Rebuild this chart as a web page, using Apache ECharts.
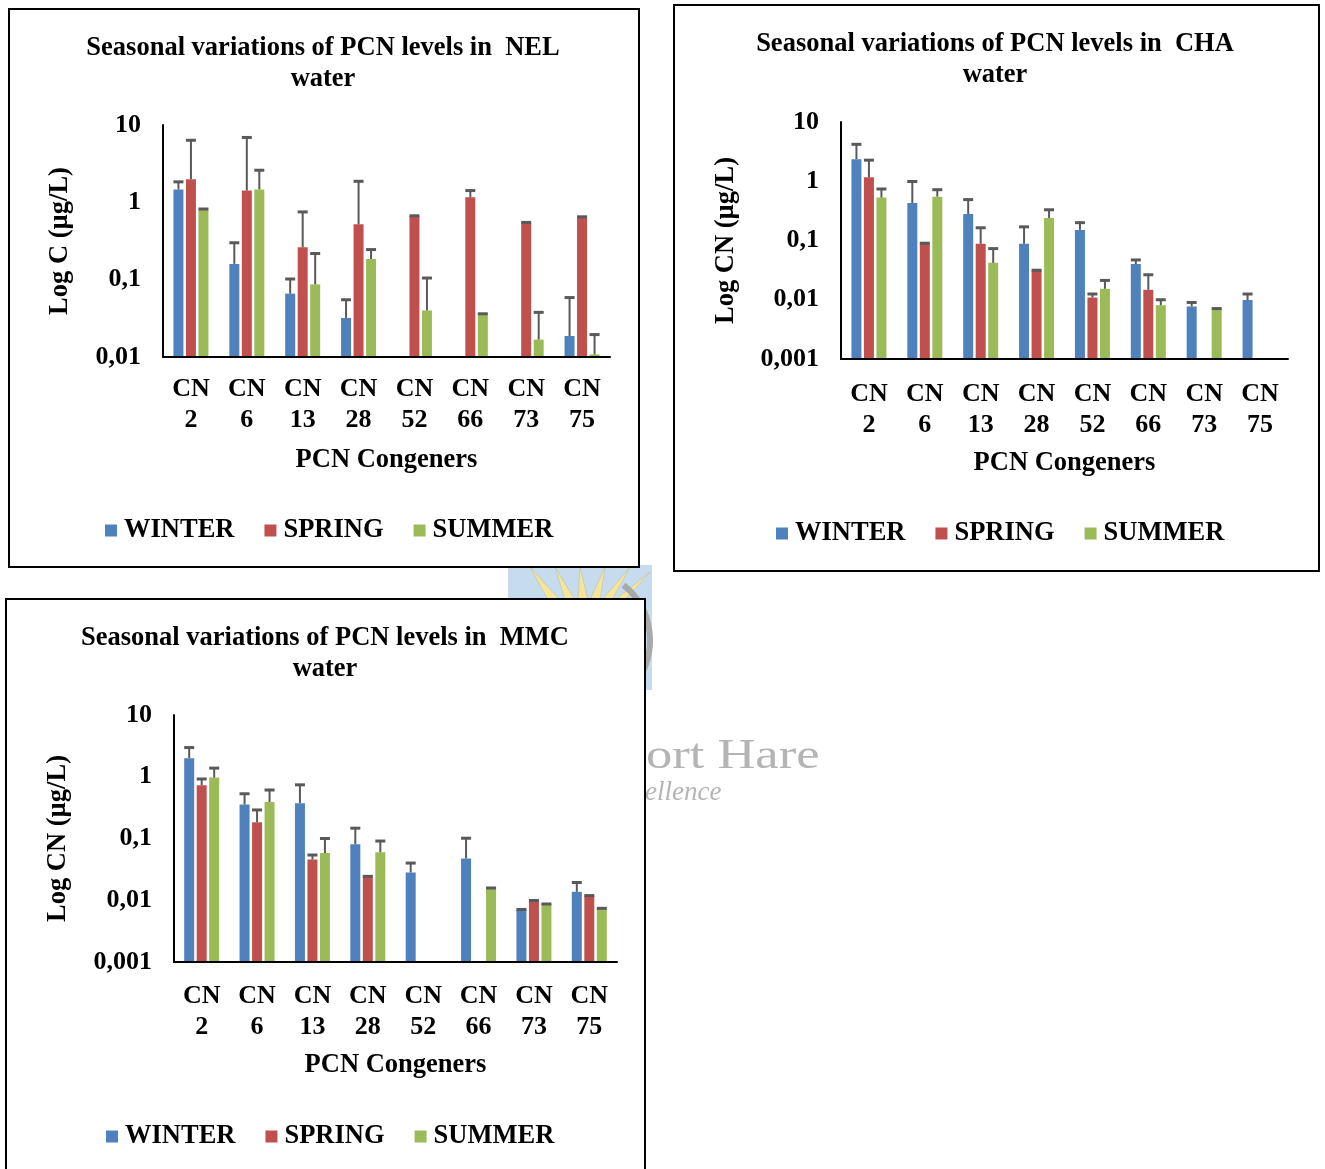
<!DOCTYPE html>
<html>
<head>
<meta charset="utf-8">
<script src="https://cdn.jsdelivr.net/npm/echarts@6/dist/echarts.min.js"></script>
<style>html,body{margin:0;padding:0;background:#fff;}#c{width:1325px;height:1169px;}</style>
</head>
<body>
<div id="c"></div>
<script>
// ---------- DATA ----------
const categories = ['CN 2', 'CN 6', 'CN 13', 'CN 28', 'CN 52', 'CN 66', 'CN 73', 'CN 75'];
const seasons = ['WINTER', 'SPRING', 'SUMMER'];

// NEL water (µg/L) and standard deviations
const nelWinter   = [1.47, 0.16, 0.066, 0.032, null, null, null, 0.0187];
const nelWinterSD = [0.37, 0.14, 0.036, 0.023, null, null, null, 0.040];
const nelSpring   = [1.99, 1.42, 0.262, 0.52, 0.66, 1.16, 0.54, 0.64];
const nelSpringSD = [4.36, 5.48, 0.49, 1.35, 0.01, 0.26, 0.01, 0.01];
const nelSummer   = [0.81, 1.47, 0.087, 0.185, 0.040, 0.0357, 0.0168, 0.0108];
const nelSummerSD = [0.01, 1.13, 0.131, 0.06, 0.065, 0.0005, 0.021, 0.0087];

// CHA water
const chaWinter   = [2.36, 0.43, 0.28, 0.088, 0.151, 0.040, 0.0077, 0.0099];
const chaWinterSD = [1.84, 0.56, 0.21, 0.082, 0.049, 0.007, 0.0013, 0.0026];
const chaSpring   = [1.17, 0.088, 0.088, 0.031, 0.0109, 0.0147, null, null];
const chaSpringSD = [1.10, 0.002, 0.076, 0.0005, 0.0016, 0.0117, null, null];
const chaSummer   = [0.53, 0.55, 0.042, 0.24, 0.0153, 0.0081, 0.0070, null];
const chaSummerSD = [0.21, 0.17, 0.031, 0.09, 0.0059, 0.0019, 0.0001, null];

// MMC water
const mmcWinter   = [2.0, 0.355, 0.374, 0.081, 0.0282, 0.0475, 0.0070, 0.0137];
const mmcWinterSD = [0.97, 0.175, 0.366, 0.066, 0.0118, 0.0535, 0.0001, 0.0057];
const mmcSpring   = [0.73, 0.184, 0.0457, 0.0243, null, null, 0.0098, 0.0118];
const mmcSpringSD = [0.19, 0.106, 0.0083, 0.0001, null, null, 0.0001, 0.0001];
const mmcSummer   = [0.97, 0.39, 0.058, 0.060, null, 0.0157, 0.0086, 0.0073];
const mmcSummerSD = [0.41, 0.22, 0.042, 0.031, null, 0.0001, 0.0001, 0.0001];

// ---------- STYLE ----------
const FONT = '"Liberation Serif", "Times New Roman", serif';
const COLORS = ['#4F81BD', '#C0504D', '#9BBB59'];
const ERR = '#595959';
const FS = 26.5;   // titles, names, legend
const FT = 26;     // tick labels

const panels = [
  { title: 'Seasonal variations of PCN levels in  NEL\nwater', tx: 323, ty: 33, yName: 'Log C (µg/L)', yGap: 89,
    xMargin: 17, xGap: 90, min: 0.01,
    grid: { left: 163, top: 125, width: 447, height: 232 }, legendTop: 512, legendLeft: 100,
    data: [[nelWinter, nelWinterSD], [nelSpring, nelSpringSD], [nelSummer, nelSummerSD]] },
  { title: 'Seasonal variations of PCN levels in  CHA\nwater', tx: 995, ty: 29, yName: 'Log CN (µg/L)', yGap: 101,
    xMargin: 20, xGap: 91, min: 0.001,
    grid: { left: 841, top: 122, width: 447, height: 237 }, legendTop: 515, legendLeft: 771,
    data: [[chaWinter, chaWinterSD], [chaSpring, chaSpringSD], [chaSummer, chaSummerSD]] },
  { title: 'Seasonal variations of PCN levels in  MMC\nwater', tx: 325, ty: 623, yName: 'Log CN (µg/L)', yGap: 102,
    xMargin: 19, xGap: 90, min: 0.001,
    grid: { left: 174, top: 715, width: 443, height: 247 }, legendTop: 1118, legendLeft: 101,
    data: [[mmcWinter, mmcWinterSD], [mmcSpring, mmcSpringSD], [mmcSummer, mmcSummerSD]] }
];

const BAR_W = 10, BAR_GAP = 2.5;
const offsets = [-(BAR_W + BAR_GAP), 0, BAR_W + BAR_GAP];

function errRender(offset) {
  return function (params, api) {
    const idx = api.value(0), v = api.value(1), sd = api.value(2);
    const p0 = api.coord([idx, v]);
    const p1 = api.coord([idx, v + sd]);
    const cx = p0[0] + offset;
    return {
      type: 'group',
      children: [
        { type: 'line', shape: { x1: cx, y1: p0[1], x2: cx, y2: p1[1] }, style: { stroke: ERR, lineWidth: 2 } },
        { type: 'line', shape: { x1: cx - 5, y1: p1[1], x2: cx + 5, y2: p1[1] }, style: { stroke: ERR, lineWidth: 3 } }
      ]
    };
  };
}

const grids = [], xAxes = [], yAxes = [], series = [], legends = [], graphics = [];

// watermark (behind panels)
graphics.push(
  { type: 'rect', z: 0, shape: { x: 508, y: 565, width: 144, height: 125 }, style: { fill: '#c6dbee' } },
  { type: 'polygon', z: 0, shape: { points: [[530, 567], [560, 600], [548, 600]] }, style: { fill: '#f4e59a', stroke: '#b9b9a0', lineWidth: 0.5 } },
  { type: 'polygon', z: 0, shape: { points: [[555, 567], [575, 600], [565, 600]] }, style: { fill: '#f4e59a', stroke: '#b9b9a0', lineWidth: 0.5 } },
  { type: 'polygon', z: 0, shape: { points: [[580, 567], [588, 600], [578, 600]] }, style: { fill: '#f4e59a', stroke: '#b9b9a0', lineWidth: 0.5 } },
  { type: 'polygon', z: 0, shape: { points: [[605, 567], [600, 600], [590, 600]] }, style: { fill: '#f4e59a', stroke: '#b9b9a0', lineWidth: 0.5 } },
  { type: 'polygon', z: 0, shape: { points: [[630, 567], [612, 600], [602, 600]] }, style: { fill: '#f4e59a', stroke: '#b9b9a0', lineWidth: 0.5 } },
  { type: 'polygon', z: 0, shape: { points: [[650, 572], [625, 600], [615, 600]] }, style: { fill: '#f4e59a', stroke: '#b9b9a0', lineWidth: 0.5 } },
  { type: 'arc', z: 0, shape: { cx: 580, cy: 640, r: 70, startAngle: -0.9, endAngle: 0.7 }, style: { stroke: '#a9a9a9', lineWidth: 6, fill: null } },
  { type: 'text', z: 0, x: 646, y: 757, scaleX: 1.25, style: { text: 'ort Hare', font: '42px ' + FONT, fill: '#b4b4b4', textVerticalAlign: 'middle' } },
  { type: 'text', z: 0, x: 645, y: 793, style: { text: 'ellence', font: 'italic 27px ' + FONT, fill: '#b4b4b4', textVerticalAlign: 'middle' } }
);
// panel frames
graphics.push(
  { type: 'rect', z: 1, shape: { x: 9, y: 9, width: 630, height: 558 }, style: { fill: '#fff', stroke: '#000', lineWidth: 2 } },
  { type: 'rect', z: 1, shape: { x: 674, y: 5, width: 645, height: 566 }, style: { fill: '#fff', stroke: '#000', lineWidth: 2 } },
  { type: 'rect', z: 1, shape: { x: 6, y: 599, width: 639, height: 600 }, style: { fill: '#fff', stroke: '#000', lineWidth: 2 } }
);

panels.forEach((p, gi) => {
  grids.push(Object.assign({ containLabel: false }, p.grid));
  graphics.push({
    type: 'text', z: 3, x: p.tx, y: p.ty,
    style: { text: p.title, font: 'bold ' + FS + 'px ' + FONT, fill: '#000', textAlign: 'center', lineHeight: 31 }
  });
  xAxes.push({
    type: 'category', gridIndex: gi, data: categories, z: 5,
    axisLine: { lineStyle: { color: '#000', width: 2 } },
    axisTick: { show: false },
    axisLabel: { interval: 0, margin: p.xMargin, color: '#000', fontFamily: FONT, fontWeight: 'bold', fontSize: FT, lineHeight: 31,
      formatter: v => v.replace(' ', '\n') },
    name: 'PCN Congeners', nameLocation: 'middle', nameGap: p.xGap,
    nameTextStyle: { color: '#000', fontFamily: FONT, fontWeight: 'bold', fontSize: FS }
  });
  yAxes.push({
    type: 'log', logBase: 10, gridIndex: gi, min: p.min, max: 10, startValue: p.min, z: 5,
    axisLine: { show: true, lineStyle: { color: '#000', width: 2 } },
    axisTick: { show: false }, splitLine: { show: false },
    axisLabel: { margin: 22, color: '#000', fontFamily: FONT, fontWeight: 'bold', fontSize: FT,
      formatter: v => String(v).replace('.', ',') },
    name: p.yName, nameLocation: 'middle', nameGap: p.yGap, nameRotate: 90,
    nameTextStyle: { color: '#000', fontFamily: FONT, fontWeight: 'bold', fontSize: FS }
  });
  p.data.forEach((pair, si) => {
    series.push({
      type: 'bar', name: seasons[si], xAxisIndex: gi, yAxisIndex: gi, z: 3,
      data: pair[0], barWidth: BAR_W, barGap: (BAR_GAP / BAR_W * 100) + '%',
      itemStyle: { color: COLORS[si] }
    });
  });
  p.data.forEach((pair, si) => {
    const errData = [];
    pair[0].forEach((v, i) => { if (v != null && pair[1][i] != null) errData.push([i, v, pair[1][i]]); });
    series.push({
      type: 'custom', name: seasons[si] + ' SD', xAxisIndex: gi, yAxisIndex: gi, z: 4,
      renderItem: errRender(offsets[si]), encode: { x: 0, y: 1 }, data: errData, silent: true
    });
  });
  legends.push({
    data: seasons, left: p.legendLeft, top: p.legendTop, itemWidth: 12, itemHeight: 12, itemGap: 30,
    icon: 'rect', textStyle: { color: '#000', fontFamily: FONT, fontWeight: 'bold', fontSize: FS, padding: [0, 0, 0, 2] },
    selectedMode: false
  });
});

const chart = echarts.init(document.getElementById('c'), null, { renderer: 'canvas' });
chart.setOption({
  backgroundColor: '#fff',
  animation: false,
  graphic: graphics,
  grid: grids,
  xAxis: xAxes,
  yAxis: yAxes,
  legend: legends,
  series: series
});
</script>
</body>
</html>
